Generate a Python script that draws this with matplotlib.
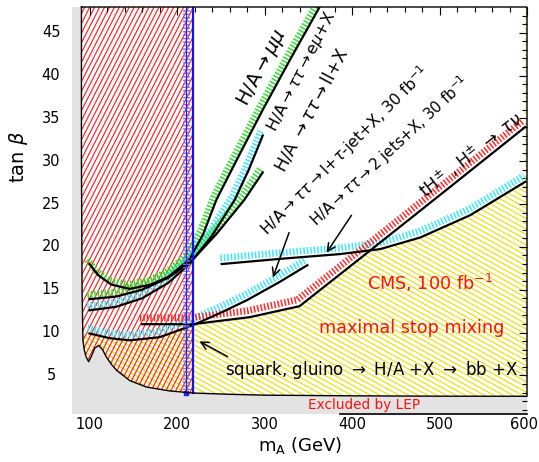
import numpy as np
import matplotlib
matplotlib.use("Agg")
import matplotlib.pyplot as plt
from matplotlib.patches import Polygon
from matplotlib.collections import LineCollection

# ---------------- data ----------------
xticks = [100, 200, 300, 400, 500, 600]
yticks = [5, 10, 15, 20, 25, 30, 35, 40, 45]

lep_m = [90.8, 90.8, 91.5, 92.5, 94, 96, 99, 102, 106, 110.5, 115, 119, 125, 131, 146, 165, 191, 218, 260, 300, 400, 500, 600]
lep_tb = [48, 30, 15, 9.1, 8.0, 7.2, 6.6, 7.2, 8.2, 8.5, 8.0, 7.2, 6.3, 5.6, 4.4, 3.65, 3.2, 2.95, 2.8, 2.7, 2.62, 2.58, 2.57]

mumu_m = [100, 110, 125, 146, 170, 190, 214, 230, 245, 270, 298, 330, 363]
mumu_tb = [18.0, 16.7, 15.6, 15.1, 15.6, 16.5, 18.5, 21.5, 25.5, 30.5, 36.0, 42.0, 48.0]

emu_m = [100, 130, 160, 190, 214, 240, 266, 282, 298]
emu_tb = [12.6, 13.0, 14.0, 15.8, 18.0, 21.3, 25.5, 29.0, 33.0]

ll_m = [100, 130, 160, 190, 216, 245, 277, 298]
ll_tb = [13.9, 14.2, 15.0, 16.4, 18.3, 21.5, 25.5, 28.7]

ltau_m = [100, 123, 146, 180, 218, 249, 280, 317, 349]
ltau_tb = [9.9, 9.35, 9.1, 9.46, 10.86, 12.27, 13.79, 15.89, 17.87]

jj_m = [251, 317, 386, 432, 478, 535, 598]
jj_tb = [18.0, 18.6, 19.16, 19.74, 21.1, 23.7, 27.6]

th_m = [160, 218, 283, 340, 417, 512, 598]
th_tb = [10.98, 10.98, 11.8, 13.08, 19.28, 26.99, 34.0]

sq_blue_m = 218
sq_band_m = 210

# ---------------- figure ----------------
W, H = 539, 462
fig = plt.figure(figsize=(W / 100, H / 100), dpi=100)
ax = fig.add_axes([72 / W, 1 - 414 / H, (527 - 72) / W, (414 - 7) / H])
ax.set_xlim(80, 600)
ax.set_ylim(0.5, 48)
ax.set_facecolor('#e3e3e3')
for s in ax.spines.values():
    s.set_visible(False)

# allowed (white) region
lm = np.array(lep_m); lt = np.array(lep_tb)
white = np.column_stack([np.r_[lm, 600, 600], np.r_[lt, 48, 48]])
ax.add_patch(Polygon(white, closed=True, facecolor='white', edgecolor='none', zorder=0.5))
ax.plot(np.r_[lm, 600, 600, lm[0]], np.r_[lt, 48, 48, lt[0]], color='black', lw=1.0, zorder=6, clip_on=False)
ax.plot([386, 600], [0.55, 0.55], color='black', lw=1.2, zorder=6, clip_on=False)


def hatch(poly, color, angle_deg, spacing_px, lw=0.8, z=1):
    patch = Polygon(poly, closed=True, facecolor='none', edgecolor='none')
    ax.add_patch(patch)
    pw, ph = 455.0, 407.0
    a = np.deg2rad(angle_deg)
    d = np.array([np.cos(a), np.sin(a)])
    nrm = np.array([-d[1], d[0]])
    L = 1200
    segs = []
    for k in np.arange(-900, 900, spacing_px):
        c = np.array([pw / 2, ph / 2]) + nrm * k
        p0 = c - d * L; p1 = c + d * L
        segs.append([(p0[0] / pw, p0[1] / ph), (p1[0] / pw, p1[1] / ph)])
    lc = LineCollection(segs, colors=color, linewidths=lw, transform=ax.transAxes, zorder=z)
    ax.add_collection(lc)
    lc.set_clip_path(patch)


# red hatched region (left of the blue line)
mm_r = lm[lm <= sq_blue_m]
tb_r = lt[lm <= sq_blue_m]
red_poly = np.column_stack([np.r_[mm_r, sq_blue_m, sq_blue_m], np.r_[tb_r, np.interp(sq_blue_m, lm, lt), 48]])
hatch(red_poly, '#ff2020', 63, 4.4, lw=0.85, z=1.2)


def seg(m, mx, my):
    v = np.interp(m, mx, my)
    return np.where((m >= mx[0]) & (m <= mx[-1]), v, 99.0)

# yellow hatched region: below the lower envelope of the tau/tH curves, down to LEP
ym = np.linspace(92.5, 600, 400)
ytop = np.minimum.reduce([np.interp(ym, ltau_m, ltau_tb) if False else seg(np.maximum(ym, 100), ltau_m, ltau_tb),
                          seg(ym, th_m, th_tb), seg(ym, jj_m, jj_tb)])
ybot = np.interp(ym, lm[3:], lt[3:])
yel_poly = np.column_stack([np.r_[ym, ym[::-1]], np.r_[ybot, ytop[::-1]]])
hatch(yel_poly, '#f0e000', -29, 4.6, lw=0.85, z=1.1)


def band(m, tb, color, z=3):
    ax.plot(m, tb, color=color, lw=5.0, dashes=(0.22, 0.28), solid_capstyle='butt',
            dash_capstyle='butt', zorder=z)


def curve(m, tb):
    ax.plot(m, tb, color='black', lw=1.6, zorder=4)


def shifted(m, tb, dm, dtb):
    return np.array(m) + dm, np.array(tb) + dtb

GREEN = '#2ee02e'
CYAN = '#3ee6ff'
RED = '#ff2a2a'
band(*shifted(mumu_m, mumu_tb, -2.5, 0.5), GREEN)
curve(mumu_m, mumu_tb)
band(*shifted(emu_m, emu_tb, -2.5, 0.5), CYAN)
curve(emu_m, emu_tb)
band(*shifted(ll_m, ll_tb, -2.5, 0.5), GREEN)
curve(ll_m, ll_tb)
band(*shifted(ltau_m, ltau_tb, -2.0, 0.65), CYAN)
curve(ltau_m, ltau_tb)
band(*shifted(jj_m, jj_tb, -1.5, 0.7), CYAN)
curve(jj_m, jj_tb)
band(*shifted(th_m, th_tb, -2.5, 0.75), RED)
curve(th_m, th_tb)

# blue lines
ax.plot([sq_band_m, sq_band_m], [2.9, 48], color='#7070ff', lw=5, dashes=(0.2, 0.3), zorder=5)
ax.plot([sq_band_m, sq_band_m], [2.9, 48], color='#2020ff', lw=0.8, zorder=5)
ax.plot([sq_band_m], [2.9], marker='s', ms=3, color='#2020ff', zorder=5)
ax.plot([sq_blue_m, sq_blue_m], [2.95, 48], color='#1010ff', lw=1.6, zorder=5)

# ticks on top and right, inward
ax.xaxis.set_ticks_position('top')
ax.yaxis.set_ticks_position('right')
ax.set_xticks(xticks)
ax.set_yticks(yticks)
ax.set_xticks(np.arange(100, 600, 20), minor=True)
ax.set_yticks(np.arange(1, 48, 1), minor=True)
ax.tick_params(which='both', direction='in', labeltop=False, labelright=False, color='black')
ax.tick_params(which='major', length=6, width=0.8)
ax.tick_params(which='minor', length=3.5, width=0.8)

# tick labels (outside, left and bottom)
for v in xticks:
    xx = v if v < 600 else 597
    ax.text(xx, -0.027, str(v), transform=ax.get_xaxis_transform(), ha='center', va='center',
            fontsize=10.5, clip_on=False)
for v in yticks:
    ax.text(-0.046, v, str(v), transform=ax.get_yaxis_transform(), ha='center', va='center',
            fontsize=10.5, clip_on=False)

fig.text(300 / W, 1 - 445 / H, r'm$_{\mathrm{A}}$ (GeV)', ha='center', va='center', fontsize=13)
fig.text(19 / W, 1 - 157 / H, r'tan $\beta$', ha='center', va='center', fontsize=14, rotation=90)

# labels
def lab(x, y, s, rot, fs=11, color='black'):
    fig.text(x / W, 1 - y / H, s, ha='center', va='center', rotation=rot, fontsize=fs,
             color=color, rotation_mode='anchor')

lab(262, 68, r'H/A$\rightarrow\mu\mu$', 62, fs=14)
lab(302, 72, r'H/A$\rightarrow\tau\tau\rightarrow$e$\mu$+X', 63, fs=11.5)
lab(311, 110, r'H/A $\rightarrow\tau\tau\rightarrow$ll+X', 62, fs=12.5)
lab(345, 151, r'H/A$\rightarrow\tau\tau\rightarrow$l+$\tau$-jet+X, 30 fb$^{-1}$', 45, fs=11.3)
lab(390, 151, r'H/A$\rightarrow\tau\tau\rightarrow$2 jets+X, 30 fb$^{-1}$', 43, fs=10.8)
lab(471, 155, r'tH$^{\pm}$ , H$^{\pm}$ $\rightarrow$ $\tau\nu$', 38, fs=12.5)
lab(430, 283, r'CMS, 100 fb$^{-1}$', 0, fs=12.7, color='#ff1010')
lab(412, 328, 'maximal stop mixing', 0, fs=12.7, color='#ff1010')
lab(372, 370, r'squark, gluino $\rightarrow$ H/A +X $\rightarrow$ bb +X', 0, fs=12)
lab(364, 405, 'Excluded by LEP', 0, fs=9.8, color='#ff1010')

# arrows
def arrow(x0, y0, x1, y1):
    ax.annotate('', xy=(x1 / W, 1 - y1 / H), xytext=(x0 / W, 1 - y0 / H), xycoords='figure fraction',
                textcoords='figure fraction',
                arrowprops=dict(arrowstyle='->', lw=1.1, color='black', mutation_scale=14), zorder=7)

arrow(230, 358, 197, 340)
arrow(290, 230, 272, 280)
arrow(353, 213, 325, 255)

fig.savefig('out.png', dpi=100)
